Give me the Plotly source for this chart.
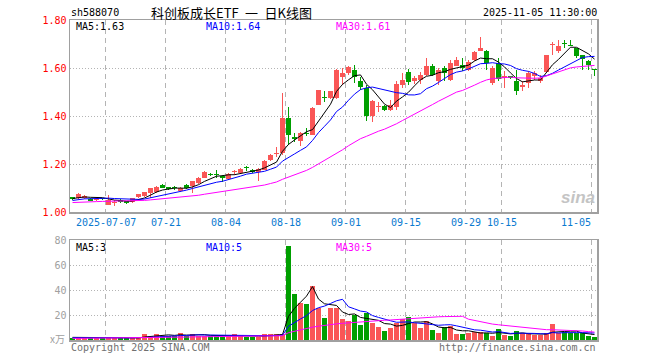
import plotly.graph_objects as go

# ---------------- data ----------------
tick_idx = [6, 16, 26, 36, 46, 56, 66, 72, 87]
tick_text = ['2025-07-07', '07-21', '08-04', '08-18', '09-01', '09-15', '09-29', '10-15', '11-05']

opens = [1.058,1.058,1.058,1.056,1.049,1.058,1.030,1.038,1.051,1.045,
         1.040,1.062,1.068,1.079,1.082,1.114,1.104,1.101,1.086,1.114,
         1.110,1.121,1.142,1.160,1.157,1.151,1.138,1.166,1.162,1.185,
         1.176,1.165,1.176,1.215,1.240,1.246,1.393,1.311,1.294,1.331,
         1.322,1.447,1.481,1.475,1.475,1.562,1.579,1.590,1.544,1.517,
         1.399,1.438,1.440,1.426,1.438,1.528,1.582,1.544,1.549,1.572,
         1.607,1.544,1.600,1.551,1.610,1.614,1.593,1.635,1.672,1.672,
         1.538,1.621,1.560,1.565,1.547,1.519,1.538,1.565,1.547,1.583,
         1.695,1.672,1.703,1.696,1.683,1.656,1.628,1.593]
highs = [1.062,1.079,1.070,1.058,1.057,1.060,1.072,1.052,1.053,1.047,
         1.060,1.076,1.085,1.101,1.108,1.117,1.106,1.110,1.103,1.115,
         1.131,1.144,1.170,1.163,1.174,1.153,1.162,1.176,1.183,1.193,
         1.178,1.182,1.217,1.242,1.271,1.496,1.438,1.329,1.332,1.350,
         1.436,1.510,1.503,1.506,1.597,1.600,1.610,1.614,1.563,1.531,
         1.467,1.457,1.447,1.468,1.544,1.579,1.596,1.568,1.582,1.642,
         1.617,1.600,1.607,1.635,1.646,1.642,1.635,1.672,1.729,1.675,
         1.607,1.642,1.586,1.568,1.593,1.544,1.586,1.586,1.572,1.656,
         1.707,1.715,1.718,1.715,1.683,1.656,1.635,1.593]
lows = [1.052,1.055,1.056,1.045,1.047,1.052,1.028,1.027,1.038,1.033,
        1.038,1.060,1.063,1.058,1.080,1.098,1.093,1.090,1.083,1.097,
        1.079,1.118,1.140,1.150,1.142,1.125,1.135,1.156,1.160,1.170,
        1.163,1.128,1.174,1.213,1.229,1.239,1.281,1.290,1.274,1.315,
        1.319,1.444,1.457,1.471,1.471,1.531,1.572,1.538,1.510,1.378,
        1.374,1.415,1.419,1.419,1.424,1.517,1.531,1.535,1.535,1.568,
        1.565,1.531,1.544,1.544,1.607,1.586,1.586,1.628,1.669,1.593,
        1.531,1.544,1.517,1.554,1.489,1.503,1.517,1.551,1.538,1.579,
        1.656,1.663,1.683,1.690,1.642,1.593,1.593,1.565]
closes = [1.056,1.076,1.068,1.047,1.054,1.054,1.050,1.042,1.040,1.038,
          1.058,1.074,1.082,1.099,1.103,1.100,1.096,1.099,1.100,1.100,
          1.128,1.142,1.168,1.153,1.154,1.140,1.160,1.170,1.179,1.182,
          1.165,1.179,1.214,1.239,1.243,1.390,1.322,1.306,1.329,1.326,
          1.433,1.507,1.476,1.503,1.593,1.579,1.603,1.562,1.519,1.399,
          1.464,1.442,1.424,1.447,1.533,1.551,1.540,1.558,1.572,1.607,
          1.572,1.593,1.579,1.621,1.635,1.600,1.624,1.665,1.683,1.621,
          1.600,1.554,1.565,1.558,1.503,1.531,1.579,1.579,1.558,1.653,
          1.699,1.690,1.699,1.692,1.651,1.638,1.614,1.590]
volumes = [2.0,2.0,2.0,1.5,1.5,1.5,2.0,1.5,1.5,1.5,
           1.5,2.5,5.0,3.5,5.0,3.5,3.5,3.0,6.0,3.5,
           5.0,3.5,3.5,3.0,3.0,3.0,3.0,4.5,3.5,2.5,
           2.5,2.5,5.0,5.0,4.5,5.0,75.2,36.8,29.6,28.8,
           43.2,25.3,17.9,25.9,26.0,16.8,15.5,20.0,12.0,22.0,
           13.9,10.7,7.2,9.9,13.9,16.8,18.1,13.3,9.9,15.2,
           8.0,5.6,10.1,11.5,4.8,4.8,5.6,6.1,6.7,5.3,
           3.2,8.8,4.0,3.2,7.2,5.3,5.3,3.7,4.0,5.3,
           12.8,5.3,6.7,5.3,5.3,5.3,3.2,2.7]
# closes / volumes of the 29 sessions before the visible window (for the MAs)
pre_close = [1.028,1.031,1.035,1.033,1.030,1.036,1.040,1.038,1.034,1.032,
             1.036,1.039,1.037,1.035,1.033,1.038,1.041,1.036,1.034,1.034,
             1.037,1.040,1.042,1.039,1.043,1.052,1.058,1.055,1.059]
pre_vol = [1.1,0.9,1.2,1.0,1.3,0.8,1.1,1.2,0.9,1.0,1.3,1.1,1.0,0.9,1.2,
           1.1,1.0,1.4,1.2,1.1,1.3,1.5,1.2,1.4,1.8,2.2,2.0,2.1,2.3]

price_ticks = [1.00, 1.20, 1.40, 1.60, 1.80]
vol_ticks = [20, 40, 60, 80]

# ---------------- helpers ----------------
RED = '#fa5656'
GREEN = '#009f00'
MONO = 'DejaVu Sans Mono'
N = len(closes)
idx = list(range(N))


def moving_avg(pre, vals, n):
    full = pre + vals
    off = len(pre)
    return [sum(full[off + i - n + 1: off + i + 1]) / n for i in range(len(vals))]


colors = [RED if c >= o else GREEN for o, c in zip(opens, closes)]
body_base = [min(o, c) for o, c in zip(opens, closes)]
body_h = [max(abs(c - o), 0.0045) for o, c in zip(opens, closes)]
wick_h = [h - l for h, l in zip(highs, lows)]

fig = go.Figure()
fig.add_trace(go.Bar(x=idx, y=wick_h, base=lows, width=0.17, marker_color=colors,
                     marker_line_width=0, xaxis='x', yaxis='y'))
fig.add_trace(go.Bar(x=idx, y=body_h, base=body_base, width=0.8, marker_color=colors,
                     marker_line_width=0, xaxis='x', yaxis='y'))
for n, col in [(5, '#000000'), (10, '#0000ff'), (30, '#ff00ff')]:
    fig.add_trace(go.Scatter(x=idx, y=moving_avg(pre_close, closes, n), mode='lines',
                             line=dict(color=col, width=1), xaxis='x', yaxis='y'))
fig.add_trace(go.Bar(x=idx, y=volumes, width=0.8, marker_color=colors,
                     marker_line_width=0, xaxis='x2', yaxis='y2'))
for n, col in [(5, '#000000'), (10, '#0000ff'), (30, '#ff00ff')]:
    fig.add_trace(go.Scatter(x=idx, y=moving_avg(pre_vol, volumes, n), mode='lines',
                             line=dict(color=col, width=1), xaxis='x2', yaxis='y2'))

grid_pos = [t - 0.42 for t in tick_idx]
xr = [-0.4167, N - 1 + 0.4167]
frame = dict(showline=True, mirror=True, linecolor='#a0a0a0', linewidth=1.5,
             zeroline=False, ticks='')
fig.update_layout(
    width=660, height=360, margin=dict(l=70, r=63, t=20, b=20),
    paper_bgcolor='white', plot_bgcolor='white', showlegend=False,
    barmode='overlay', bargap=0, hovermode=False,
    xaxis=dict(domain=[0, 1], range=xr, anchor='y', tickvals=grid_pos, showticklabels=False,
               showgrid=True, gridcolor='#b4b4b4', griddash='5px,4px', gridwidth=1, **frame),
    yaxis=dict(domain=[0.4, 1], range=[1.0, 1.8], tickvals=price_ticks,
               ticktext=['%.2f' % v for v in price_ticks],
               tickfont=dict(family=MONO, size=10, color='#ff0000'),
               showgrid=True, gridcolor='#b4b4b4', griddash='1px,2px', gridwidth=1, **frame),
    xaxis2=dict(domain=[0, 1], range=xr, anchor='y2', matches='x', tickvals=grid_pos,
                showticklabels=False, showgrid=True, gridcolor='#b4b4b4', griddash='5px,4px',
                gridwidth=1, **frame),
    yaxis2=dict(domain=[0, 0.3125], range=[0, 80], tickvals=vol_ticks,
                ticktext=[str(v) for v in vol_ticks],
                tickfont=dict(family=MONO, size=10, color='#a0a0a0'),
                showgrid=True, gridcolor='#b4b4b4', griddash='1px,2px', gridwidth=1, **frame),
)


def px_x(X):
    return (X - 70) / 527.0


def px_y(Y):
    return (340 - Y) / 320.0


ann = []


def text(t, X, Y, color='#000000', size=10, anchor='left', family=MONO, **kw):
    ann.append(dict(text=t, x=px_x(X), y=px_y(Y), xref='paper', yref='paper',
                    xanchor=anchor, yanchor='middle', showarrow=False,
                    font=dict(family=family, size=size, color=color), **kw))


text('sh588070', 69, 13)
text('科创板成长ETF\u2002一\u2002日K线图', 231, 13, size=13, anchor='center',
     family='Noto Sans CJK SC, ' + MONO)
text('2025-11-05 11:30:00', 599, 13, anchor='right')
text('MA5:1.63', 74, 27)
text('MA10:1.64', 204, 27, color='#0000ff')
text('MA30:1.61', 334, 27, color='#ff00ff')
text('MA5:3', 74, 247)
text('MA10:5', 204, 247, color='#0000ff')
text('MA30:5', 334, 247, color='#ff00ff')
text('x万', 67, 338, color='#a0a0a0', anchor='right', family='Noto Sans CJK SC')
text('Copyright 2025 SINA.COM', 69, 347, color='#707070')
text('http://finance.sina.com.cn', 598, 347, color='#707070', anchor='right')
text('<b><i>sina</i></b>', 597, 197, color='#c4c4c4', size=17, anchor='right',
     family='Arial, Liberation Sans')

for k, (gp, lab) in enumerate(zip(grid_pos, tick_text)):
    last = (k == len(tick_text) - 1)
    ann.append(dict(text=lab, x=(gp + 0.1) if last else gp, y=px_y(222), xref='x', yref='paper',
                    xanchor='right' if last else 'center', yanchor='middle', showarrow=False,
                    font=dict(family=MONO, size=10, color='#0a7ad0')))

fig.update_layout(annotations=ann)
fig.write_html('out.html', config={'displayModeBar': False, 'staticPlot': True},
               post_script="document.body.style.margin='0px';document.body.style.overflow='hidden';")
